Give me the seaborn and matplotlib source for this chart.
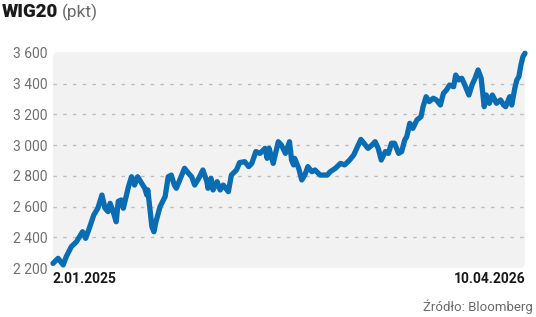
import matplotlib
matplotlib.use("Agg")
import matplotlib.pyplot as plt
from matplotlib.patches import FancyBboxPatch
import seaborn as sns
import pandas as pd

dates = [
    "2025-01-02", "2025-01-07", "2025-01-12", "2025-01-15", "2025-01-20", "2025-01-25",
    "2025-01-31", "2025-02-03", "2025-02-06", "2025-02-11", "2025-02-15", "2025-02-19",
    "2025-02-22", "2025-02-25", "2025-02-27", "2025-03-02", "2025-03-05", "2025-03-07",
    "2025-03-10", "2025-03-12", "2025-03-17", "2025-03-20", "2025-03-23", "2025-03-26",
    "2025-03-30", "2025-04-02", "2025-04-04", "2025-04-05", "2025-04-09", "2025-04-11",
    "2025-04-13", "2025-04-17", "2025-04-22", "2025-04-25", "2025-04-28", "2025-05-01",
    "2025-05-03", "2025-05-07", "2025-05-11", "2025-05-15", "2025-05-18", "2025-05-21",
    "2025-05-25", "2025-05-29", "2025-06-02", "2025-06-03", "2025-06-06", "2025-06-08",
    "2025-06-12", "2025-06-15", "2025-06-18", "2025-06-23", "2025-06-26", "2025-07-01",
    "2025-07-04", "2025-07-09", "2025-07-13", "2025-07-16", "2025-07-20", "2025-07-24",
    "2025-07-29", "2025-07-31", "2025-08-02", "2025-08-06", "2025-08-11", "2025-08-14",
    "2025-08-18", "2025-08-22", "2025-08-24", "2025-08-26", "2025-08-27", "2025-08-31",
    "2025-09-03", "2025-09-06", "2025-09-09", "2025-09-13", "2025-09-16", "2025-09-21",
    "2025-09-28", "2025-10-01", "2025-10-06", "2025-10-11", "2025-10-15", "2025-10-20",
    "2025-10-24", "2025-10-27", "2025-10-31", "2025-11-03", "2025-11-07", "2025-11-11",
    "2025-11-14", "2025-11-17", "2025-11-20", "2025-11-24", "2025-11-27", "2025-11-30",
    "2025-12-03", "2025-12-07", "2025-12-10", "2025-12-13", "2025-12-15", "2025-12-18",
    "2025-12-21", "2025-12-25", "2025-12-29", "2025-12-31", "2026-01-03", "2026-01-06",
    "2026-01-10", "2026-01-13", "2026-01-17", "2026-01-20", "2026-01-23", "2026-01-26",
    "2026-01-30", "2026-02-01", "2026-02-04", "2026-02-07", "2026-02-10", "2026-02-14",
    "2026-02-17", "2026-02-20", "2026-02-23", "2026-02-26", "2026-03-01", "2026-03-03",
    "2026-03-06", "2026-03-09", "2026-03-13", "2026-03-17", "2026-03-20", "2026-03-22",
    "2026-03-26", "2026-03-28", "2026-03-31", "2026-04-02", "2026-04-04", "2026-04-06",
    "2026-04-08", "2026-04-10",
]
values = [
    2230, 2263, 2220, 2274, 2339, 2371,
    2436, 2393, 2447, 2545, 2589, 2675,
    2589, 2567, 2621, 2567, 2501, 2634,
    2643, 2589, 2729, 2794, 2740, 2794,
    2751, 2719, 2675, 2708, 2469, 2436,
    2501, 2599, 2665, 2794, 2805, 2740,
    2719, 2784, 2849, 2816, 2794, 2740,
    2784, 2838, 2762, 2719, 2784, 2708,
    2762, 2708, 2740, 2697, 2805, 2838,
    2886, 2892, 2860, 2881, 2958, 2946,
    2979, 2914, 2979, 2881, 3022, 3001,
    2946, 3022, 2903, 2871, 2914, 2849,
    2773, 2805, 2860, 2827, 2838, 2805,
    2805, 2827, 2849, 2881, 2871, 2903,
    2936, 2979, 3037, 3012, 2979, 3001,
    3022, 2979, 2903, 2958, 2946, 3012,
    3012, 2946, 2958, 3033, 3055, 3142,
    3109, 3164, 3185, 3250, 3315, 3283,
    3305, 3294, 3261, 3337, 3359, 3391,
    3380, 3456, 3424, 3435, 3391, 3326,
    3391, 3435, 3489, 3435, 3250, 3326,
    3272, 3326, 3272, 3294, 3261, 3250,
    3315, 3261, 3370, 3424, 3446, 3522,
    3576, 3598,
]
y_ticks = [2200, 2400, 2600, 2800, 3000, 3200, 3400, 3600]
x_tick_labels = ["2.01.2025", "10.04.2026"]
title_main = "WIG20"
title_unit = "(pkt)"
source = "Źródło: Bloomberg"

df = pd.DataFrame({"date": pd.to_datetime(dates), "value": values})

sns.set_theme(style="white")
plt.rcParams["font.family"] = ["Roboto", "DejaVu Sans"]

W, H = 536, 317
fig = plt.figure(figsize=(W / 100, H / 100), dpi=100)
ax = fig.add_axes([53 / W, 1 - 268 / H, (525 - 53) / W, (268 - 52) / H])
ax.set_facecolor("none")

# rounded grey panel
panel = FancyBboxPatch((0, 0), 1, 1, transform=ax.transAxes,
                       boxstyle="round,pad=0,rounding_size=0.012",
                       mutation_aspect=472 / 216,
                       facecolor="#f2f2f2", edgecolor="none", zorder=0)
ax.add_patch(panel)

for t in y_ticks[1:-1]:
    ax.axhline(t, color="#bdbdbd", linewidth=1.0, linestyle=(0, (2.5, 4.5)), zorder=1)

sns.lineplot(data=df, x="date", y="value", ax=ax, color="#0a6db3",
             linewidth=3.8, zorder=3, clip_on=False)
for ln in ax.lines:
    ln.set_solid_joinstyle("round")
    ln.set_solid_capstyle("round")

ax.set_xlim(df["date"].iloc[0], df["date"].iloc[-1])
ax.set_ylim(2200, 3606)
ax.set_yticks(y_ticks)
ax.set_yticklabels([f"{v:,}".replace(",", " ") for v in y_ticks])
ax.tick_params(axis="y", length=0, pad=4, labelsize=10, labelcolor="#707070")

ax.set_xticks([df["date"].iloc[0], df["date"].iloc[-1]])
ax.set_xticklabels(x_tick_labels)
ax.tick_params(axis="x", length=0, pad=3, labelsize=10, labelcolor="#1a1a1a")
xl = ax.get_xticklabels()
xl[0].set_horizontalalignment("left")
xl[1].set_horizontalalignment("right")
for t in xl:
    t.set_fontweight("bold")

ax.set_xlabel("")
ax.set_ylabel("")
for s in ax.spines.values():
    s.set_visible(False)

t1 = fig.text(2 / W, 1 - 12 / H, title_main, fontsize=13.5, fontweight="black",
              color="#1a1a1a", va="center", ha="left")
fig.canvas.draw()
bb = t1.get_window_extent()
fig.text((bb.x1 + 4) / W, 1 - 12 / H, title_unit, fontsize=12.5, color="#6a6a6a",
         va="center", ha="left")

fig.text(533 / W, 1 - 307 / H, source, fontsize=9.5, color="#6a6a6a",
         ha="right", va="center")

fig.savefig("out.png", dpi=100)
